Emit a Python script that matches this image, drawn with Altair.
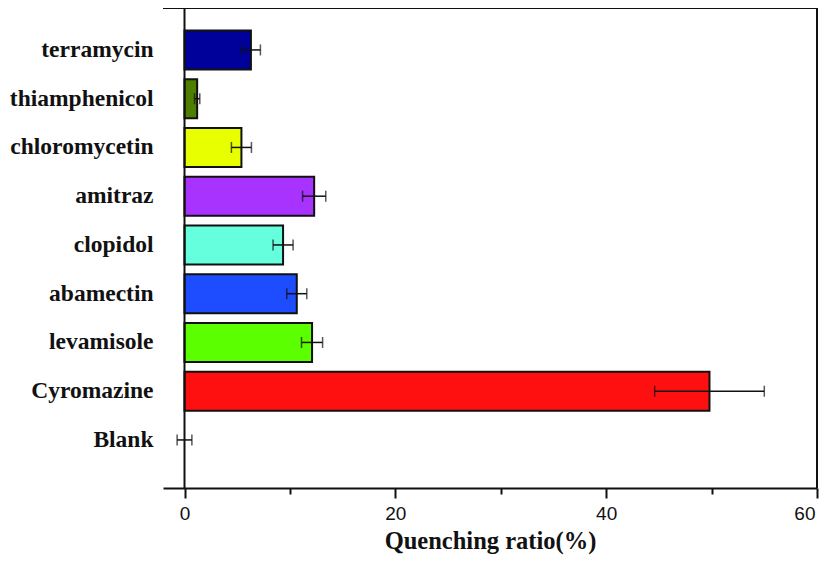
import altair as alt
import pandas as pd

names = ["terramycin", "thiamphenicol", "chloromycetin", "amitraz", "clopidol",
         "abamectin", "levamisole", "Cyromazine", "Blank"]
values = [6.3, 1.2, 5.4, 12.3, 9.35, 10.65, 12.1, 49.8, 0.0]
errors = [0.9, 0.25, 0.95, 1.1, 0.95, 0.95, 1.0, 5.2, 0.7]
colors = ["#00009a", "#4f7f00", "#e8ff00", "#a833ff", "#66ffdd",
          "#1e4dff", "#5cff00", "#ff1010", "#ffffff"]

df = pd.DataFrame({"name": names, "value": values, "err": errors, "color": colors})
df["low"] = df["value"] - df["err"]
df["high"] = df["value"] + df["err"]

W, H = 654, 480
xscale = alt.Scale(domain=[-2.04, 60], nice=False, zero=False)
yscale = alt.Scale(domain=names, paddingInner=0.2, paddingOuter=0.523, align=0.44)

xaxis = alt.Axis(
    values=[0, 10, 20, 30, 40, 50, 60], grid=False, labelFlush=True, labelFlushOffset=-2,
    labelExpr="datum.value % 20 === 0 ? datum.label : ''",
    tickSize=alt.expr("datum.value % 20 === 0 ? 10 : 6"),
    tickWidth=2, tickColor="#111111", domainWidth=2, domainColor="#111111",
    labelFont="Liberation Sans", labelFontSize=19, labelColor="#111111", labelPadding=6,
    title="Quenching ratio(%)", titleFont="Liberation Serif", titleFontWeight="bold",
    titleFontSize=24.5, titleColor="#111111", titleX=327, titleY=60,
    titleBaseline="alphabetic",
)
yaxis = alt.Axis(
    title=None, domain=False, ticks=False, grid=False, labelPadding=10,
    labelFont="Liberation Serif", labelFontWeight="bold", labelFontSize=23.5,
    labelColor="#111111", labelLimit=300,
)

base = alt.Chart(df)
bars = base.transform_filter("datum.value > 0").mark_bar(stroke="#111111", strokeWidth=2).encode(
    x=alt.X("value:Q", scale=xscale, axis=xaxis),
    y=alt.Y("name:N", scale=yscale, axis=yaxis, sort=names),
    color=alt.Color("color:N", scale=None),
)
err_line = base.mark_rule(color="#111111", strokeWidth=1.5).encode(
    x=alt.X("low:Q", scale=xscale), x2="high:Q",
    y=alt.Y("name:N", scale=yscale, sort=names),
)
cap_low = base.mark_tick(color="#111111", thickness=1.5, size=11).encode(
    x=alt.X("low:Q", scale=xscale), y=alt.Y("name:N", scale=yscale, sort=names))
cap_high = base.mark_tick(color="#111111", thickness=1.5, size=11).encode(
    x=alt.X("high:Q", scale=xscale), y=alt.Y("name:N", scale=yscale, sort=names))
zero_line = alt.Chart(pd.DataFrame({"z": [0]})).mark_rule(color="#111111", strokeWidth=2).encode(
    x=alt.X("z:Q", scale=xscale), y=alt.value(0), y2=alt.value(H))
top_line = alt.Chart(pd.DataFrame({"z": [0]})).mark_rule(color="#111111", strokeWidth=2).encode(
    x=alt.value(0), x2=alt.value(W), y=alt.value(0))
right_line = alt.Chart(pd.DataFrame({"z": [0]})).mark_rule(color="#111111", strokeWidth=2).encode(
    x=alt.value(W), y=alt.value(0), y2=alt.value(H))

chart = (bars + err_line + cap_low + cap_high + zero_line + top_line + right_line).properties(
    width=W, height=H,
    autosize=alt.AutoSizeParams(type="none"),
    padding={"left": 155, "top": 0, "right": 2, "bottom": 67},
).configure_view(stroke=None).configure_axis(labelOverlap=False)

chart.save("out.html", embed_options={"renderer": "svg", "actions": False})
